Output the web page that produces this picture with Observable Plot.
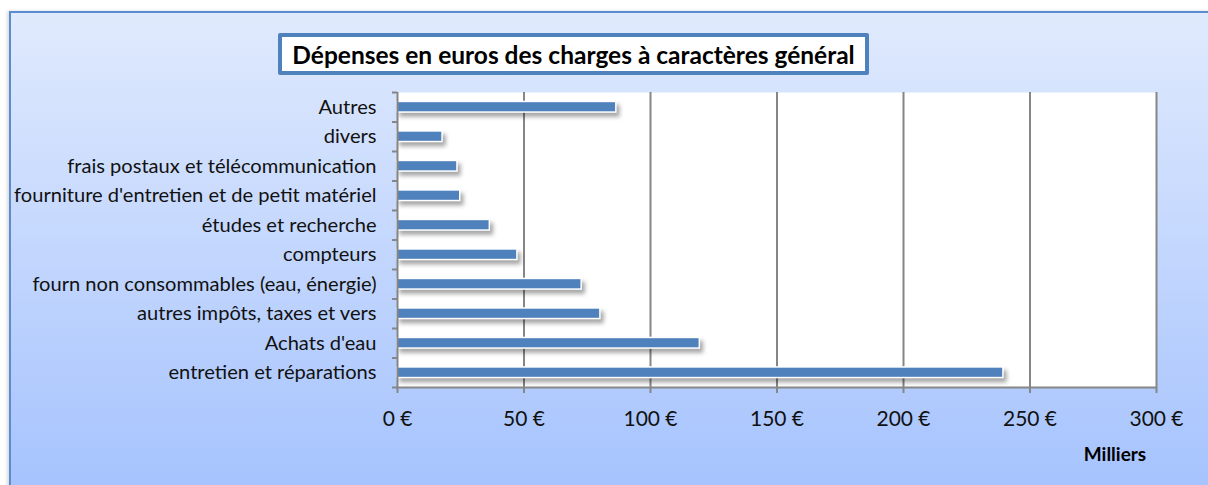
<!DOCTYPE html>
<html><head><meta charset="utf-8">
<script src="https://cdn.jsdelivr.net/npm/d3@7"></script>
<script src="https://cdn.jsdelivr.net/npm/@observablehq/plot@0.6"></script>
<style>
body{margin:0;background:#fff;}
#wrap{position:relative;width:1208px;height:485px;overflow:hidden;font-family:Lato,sans-serif;}
#panel{position:absolute;left:9px;top:11px;width:1230px;height:490px;border:2px solid #5b8bd0;background:linear-gradient(#e0eafd,#a4c2fe);box-shadow:-2px 0 3px rgba(0,0,0,0.15);}
#title{position:absolute;left:278px;top:33px;width:583px;height:34px;border:4px solid #4f81bd;border-radius:2px;background:#fff;font-weight:bold;font-size:24.5px;color:#000;display:flex;align-items:center;justify-content:center;white-space:nowrap;}
#unit{position:absolute;left:1065px;top:442px;width:100px;text-align:center;font-weight:bold;font-size:19px;color:#000;}
#chart{position:absolute;left:0;top:0;}
</style></head>
<body>
<div id="wrap">
  <div id="panel"></div>
  <div id="chart"></div>
  <div id="title">Dépenses en euros des charges à caractères général</div>
  <div id="unit">Milliers</div>
</div>
<script>
const categories = ["entretien et réparations","Achats d'eau","autres impôts, taxes et vers","fourn non consommables (eau, énergie)","compteurs","études et recherche","fourniture d'entretien et de petit matériel","frais postaux et télécommunication","divers","Autres"];
const values = [239.5, 119.5, 80.2, 72.8, 47.4, 36.5, 24.8, 23.7, 17.8, 86.5];
const xTicks = [0, 50, 100, 150, 200, 250, 300];
const xTickLabels = ["0 €", "50 €", "100 €", "150 €", "200 €", "250 €", "300 €"];

const rows = categories.map((c, i) => ({cat: c, idx: i, value: values[i]}));
const grey = "#868686";

const chart = Plot.plot({
  width: 1208, height: 485,
  marginLeft: 397, marginRight: 52, marginTop: 92, marginBottom: 98,
  style: {background: "transparent", fontFamily: "Lato, sans-serif", fontSize: "20px", color: "#111", overflow: "visible"},
  x: {domain: [0, 300]},
  y: {domain: [0, categories.length]},
  marks: [
    Plot.frame({fill: "white", stroke: null}),
    Plot.ruleX(xTicks.slice(1), {stroke: grey, strokeWidth: 2}),
    Plot.rectX(rows, {x1: 0, x2: "value", y1: d => d.idx + 0.32, y2: d => d.idx + 0.68, fill: "#4f81bd", stroke: "white", strokeWidth: 1.5}),
    Plot.ruleX([0], {stroke: grey, strokeWidth: 2}),
    Plot.ruleY([0], {stroke: grey, strokeWidth: 2}),
    Plot.axisX({ticks: xTicks, tickFormat: d => xTickLabels[xTicks.indexOf(d)], tickSize: 6, tickPadding: 18, fontSize: 21, stroke: grey, strokeWidth: 2, fill: "#111", label: null}),
    Plot.axisY({ticks: d3.range(categories.length + 1), tickFormat: () => "", tickSize: 5, stroke: grey, strokeWidth: 2, label: null}),
    Plot.axisY({ticks: rows.map(d => d.idx + 0.5), tickFormat: v => categories[Math.floor(v)], tickSize: 0, tickPadding: 21, fontSize: 20.1, fill: "#111", label: null})
  ]
});
chart.querySelectorAll('g[aria-label="rect"]').forEach(g => g.style.filter = "drop-shadow(3px 4px 2px rgba(0,0,0,0.35))");
document.getElementById("chart").append(chart);
</script>
</body></html>
